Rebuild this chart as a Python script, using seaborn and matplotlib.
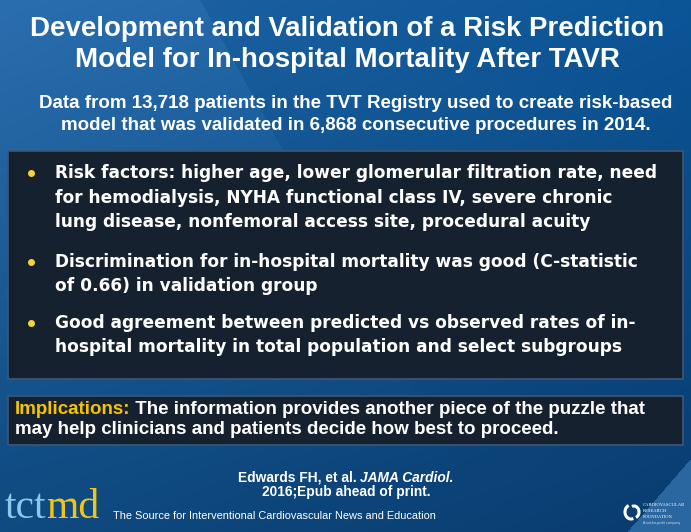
import numpy as np
import seaborn as sns
import matplotlib.pyplot as plt
from matplotlib.patches import Rectangle, Arc

sns.set_theme(style="white")
plt.rcParams['font.family'] = ['Liberation Sans', 'DejaVu Sans']

# slide text
title_lines = ["Development and Validation of a Risk Prediction",
               "Model for In-hospital Mortality After TAVR"]
subtitle_lines = ["Data from 13,718 patients in the TVT Registry used to create risk-based",
                  "model that was validated in 6,868 consecutive procedures in 2014."]
bullets = [
    ["Risk factors: higher age, lower glomerular filtration rate, need",
     "for hemodialysis, NYHA functional class IV, severe chronic",
     "lung disease, nonfemoral access site, procedural acuity"],
    ["Discrimination for in-hospital mortality was good (C-statistic",
     "of 0.66) in validation group"],
    ["Good agreement between predicted vs observed rates of in-",
     "hospital mortality in total population and select subgroups"],
]
impl_label = "Implications:"
impl_lines = [" The information provides another piece of the puzzle that",
              "may help clinicians and patients decide how best to proceed."]
cite_author = "Edwards FH, et al. "
cite_journal = "JAMA Cardiol."
cite_line2 = "2016;Epub ahead of print."
logo_left = "tct"
logo_right = "md"
tagline = "The Source for Interventional Cardiovascular News and Education"
crf_lines = ["CARDIOVASCULAR", "RESEARCH", "FOUNDATION"]

W, H = 691, 532
fig = plt.figure(figsize=(W / 100, H / 100), dpi=100)
ax = fig.add_axes([0, 0, 1, 1])
ax.set_xlim(0, W)
ax.set_ylim(H, 0)
ax.axis("off")

# background: blue gradient with lighter facets
def rgb(h):
    return np.array([int(h[i:i + 2], 16) for i in (1, 3, 5)]) / 255

yy, xx = np.mgrid[0:H, 0:W]
s = (xx / W)[..., None]
t = (yy / H)[..., None]
bg = (rgb("#2164a5") * (1 - s) * (1 - t) + rgb("#0b5597") * s * (1 - t)
      + rgb("#0f4a80") * (1 - s) * t + rgb("#093c6f") * s * t)
facet = xx < 200 + 0.55 * yy
fade = np.clip(1 - yy / 470, 0, 1)
bg[facet] += (0.04 * fade[facet])[:, None]
corner = (xx - 691) + 0.87 * (yy - 458) > 0
bg[corner] = rgb("#2a66a0")
ax.imshow(np.clip(bg, 0, 1), extent=(0, W, H, 0), aspect="auto", zorder=0)

# title + subtitle
for y, line in zip([29, 60], title_lines):
    ax.text(347, y, line, color="white", fontsize=19.9, fontweight="bold",
            ha="center", va="center")
for y, line in zip([103, 126], subtitle_lines):
    ax.text(356, y, line, color="white", fontsize=13.5, fontweight="bold",
            ha="center", va="center")

# boxes
box_kw = dict(facecolor="#162130", edgecolor="#3b5573", lw=1.3, zorder=1)
ax.add_patch(Rectangle((8, 151), 675, 228, **box_kw))
ax.add_patch(Rectangle((8, 396), 675, 49, **box_kw))

# bullets
bullet_y = [[173, 198, 222], [262, 286], [323, 347]]
for lines, ys in zip(bullets, bullet_y):
    ax.plot(31, ys[0], "o", color="#f2d43c", ms=4, zorder=3)
    for y, line in zip(ys, lines):
        ax.text(55, y, line, color="white", fontsize=12.25, fontweight="bold",
                family="DejaVu Sans", ha="left", va="center", zorder=3)

# implications
lab = ax.text(15, 410, impl_label, color="#f5c400", fontsize=13.5,
              fontweight="bold", ha="left", va="center", zorder=3)
ax.annotate(impl_lines[0], xy=(1, 0), xycoords=lab, ha="left", va="bottom",
            color="white", fontsize=13.5, fontweight="bold", zorder=3)
ax.text(15, 429, impl_lines[1], color="white", fontsize=13.5,
        fontweight="bold", ha="left", va="center", zorder=3)

# citation
r = fig.canvas.get_renderer()
a = ax.text(0, 478, cite_author, color="white", fontsize=9.9, fontweight="bold",
            ha="left", va="center")
j = ax.text(0, 478, cite_journal, color="white", fontsize=9.9, fontweight="bold",
            style="italic", ha="left", va="center")
wa = a.get_window_extent(r).width
wj = j.get_window_extent(r).width
x0 = 346 - (wa + wj) / 2
a.set_x(x0)
j.set_x(x0 + wa)
ax.text(346, 492, cite_line2, color="white", fontsize=9.9, fontweight="bold",
        ha="center", va="center")

# tctmd logo + tagline
lg = ax.text(5, 518, logo_left, color="#8ec6ee", fontsize=30,
             family="Liberation Serif", ha="left", va="baseline")
ax.annotate(logo_right, xy=(1, 0), xycoords=lg, ha="left", va="bottom",
            color="#f2c417", fontsize=30, family="Liberation Serif")
ax.text(113, 516, tagline, color="white", fontsize=7.9, ha="left", va="center")

# CRF logo
ax.add_patch(Arc((631, 512), 12, 14, theta1=70, theta2=250, color="white", lw=2.2))
ax.add_patch(Arc((634, 512), 10, 12, theta1=250, theta2=430, color="white", lw=2.2))
for y, line in zip([505, 511, 517], crf_lines):
    ax.text(643, y, line, color="white", fontsize=3.3, family="Liberation Serif",
            ha="left", va="center")
ax.text(643, 523, "A not-for-profit company", color="#d0dbe8", fontsize=2.5,
        ha="left", va="center")

fig.savefig("out.png", dpi=100)
